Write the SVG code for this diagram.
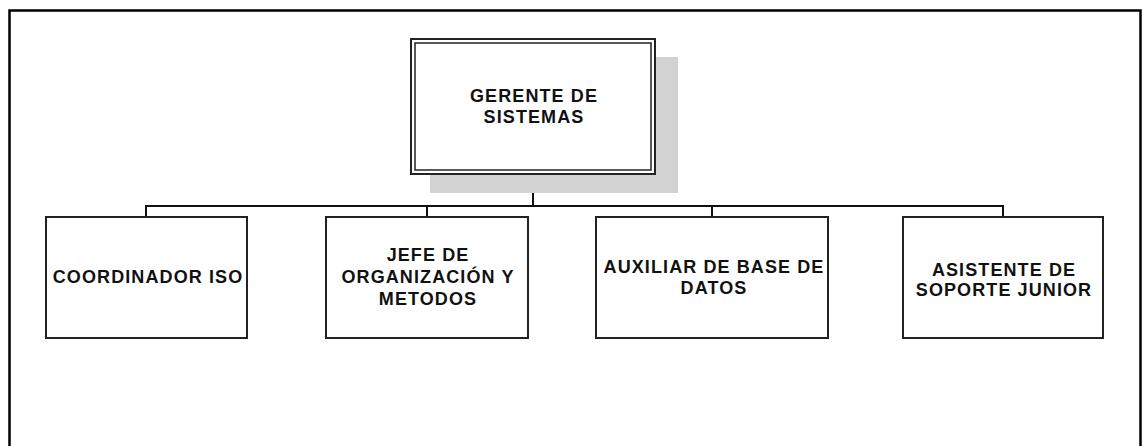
<svg xmlns="http://www.w3.org/2000/svg" width="1143" height="446" viewBox="0 0 1143 446">
<style>
.box{fill:#fff;stroke:#222;stroke-width:2}
.lbl{font-family:"Liberation Sans",Arial,sans-serif;font-weight:bold;font-size:18px;letter-spacing:1.1px;fill:#111;text-anchor:middle}
.conn{fill:none;stroke:#111;stroke-width:2}
</style>
<rect width="1143" height="446" fill="#fff"/>
<path d="M9.5,446 V10.5 H1140.5 V446" fill="none" stroke="#000" stroke-width="2.5"/>
<g id="connectors">
<path class="conn" d="M533,174 V206"/>
<path class="conn" d="M146,217 V206 H1003 V217"/>
<path class="conn" d="M427,206 V217"/>
<path class="conn" d="M712,206 V217"/>
</g>
<g id="gerente">
<rect x="430" y="57" width="248" height="136" fill="#d2d2d2"/>
<rect x="411" y="39" width="244" height="135" class="box"/>
<rect x="415" y="43" width="236" height="127" fill="none" stroke="#222" stroke-width="1.5"/>
<text class="lbl" x="534" y="102">GERENTE DE</text>
<text class="lbl" x="534" y="123">SISTEMAS</text>
</g>
<g id="coordinador">
<rect x="46" y="217" width="201" height="121" class="box"/>
<text class="lbl" x="148" y="283">COORDINADOR ISO</text>
</g>
<g id="jefe">
<rect x="326" y="217" width="202" height="121" class="box"/>
<text class="lbl" x="428" y="261">JEFE DE</text>
<text class="lbl" x="428" y="283">ORGANIZACIÓN Y</text>
<text class="lbl" x="428" y="305">METODOS</text>
</g>
<g id="auxiliar">
<rect x="596" y="217" width="232" height="121" class="box"/>
<text class="lbl" x="714" y="273">AUXILIAR DE BASE DE</text>
<text class="lbl" x="714" y="294">DATOS</text>
</g>
<g id="asistente">
<rect x="903" y="217" width="200" height="121" class="box"/>
<text class="lbl" x="1004" y="276">ASISTENTE DE</text>
<text class="lbl" x="1004" y="296">SOPORTE JUNIOR</text>
</g>
</svg>
